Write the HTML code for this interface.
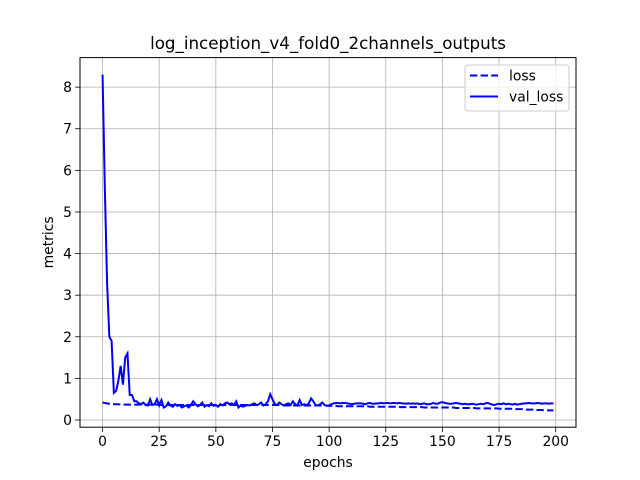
<!DOCTYPE html>
<html><head><meta charset="utf-8"><style>
body{margin:0;background:#fff}
svg{display:block;font-family:"DejaVu Sans","Liberation Sans",sans-serif}
</style></head><body>
<svg id="chart" width="640" height="480"></svg>
<script>
const epochs = Array.from({length:200},(_, i)=>i);
const valLoss = [8.3,5.6,3.3,2.0,1.9,0.65,0.7,0.95,1.3,0.85,
1.5,1.6,0.6,0.6,0.45,0.45,0.4,0.38,0.42,0.36,
0.35,0.5,0.36,0.38,0.5,0.35,0.48,0.3,0.33,0.42,
0.35,0.32,0.38,0.34,0.36,0.3,0.33,0.35,0.3,0.36,
0.45,0.38,0.33,0.36,0.42,0.32,0.36,0.33,0.4,0.34,
0.36,0.32,0.38,0.35,0.4,0.42,0.38,0.4,0.36,0.45,
0.3,0.35,0.32,0.34,0.36,0.35,0.38,0.4,0.36,0.38,
0.42,0.35,0.38,0.45,0.62,0.5,0.38,0.36,0.42,0.38,
0.35,0.38,0.4,0.36,0.45,0.38,0.35,0.48,0.36,0.38,
0.35,0.4,0.52,0.45,0.36,0.35,0.38,0.42,0.36,0.34,
0.35,0.38,0.4,0.41,0.41,0.4,0.41,0.41,0.4,0.39,
0.38,0.39,0.4,0.4,0.4,0.39,0.38,0.4,0.41,0.39,
0.39,0.4,0.4,0.41,0.4,0.41,0.41,0.4,0.41,0.41,
0.4,0.41,0.4,0.4,0.39,0.4,0.39,0.4,0.39,0.4,
0.38,0.39,0.4,0.38,0.38,0.39,0.41,0.39,0.39,0.42,
0.43,0.41,0.4,0.39,0.39,0.4,0.41,0.4,0.39,0.38,
0.39,0.38,0.38,0.39,0.38,0.37,0.38,0.39,0.38,0.4,
0.41,0.39,0.37,0.36,0.38,0.39,0.38,0.4,0.38,0.39,
0.38,0.37,0.39,0.37,0.38,0.39,0.4,0.4,0.41,0.4,
0.4,0.4,0.41,0.4,0.39,0.4,0.4,0.39,0.4,0.4];
const loss = [0.42,0.41,0.4,0.39,0.38,0.38,0.38,0.38,0.37,0.37,
0.37,0.37,0.37,0.37,0.37,0.37,0.37,0.37,0.37,0.37,
0.37,0.37,0.37,0.37,0.37,0.37,0.36,0.36,0.36,0.36,
0.36,0.36,0.36,0.36,0.36,0.36,0.36,0.36,0.36,0.36,
0.36,0.36,0.36,0.36,0.36,0.36,0.36,0.36,0.36,0.36,
0.36,0.36,0.36,0.36,0.36,0.36,0.36,0.36,0.36,0.36,
0.36,0.36,0.36,0.36,0.36,0.36,0.36,0.36,0.36,0.36,
0.36,0.36,0.36,0.36,0.36,0.36,0.36,0.36,0.36,0.36,
0.35,0.35,0.35,0.35,0.35,0.35,0.35,0.35,0.35,0.35,
0.35,0.35,0.35,0.35,0.35,0.35,0.35,0.35,0.35,0.35,
0.34,0.34,0.34,0.34,0.33,0.33,0.33,0.33,0.33,0.33,
0.33,0.33,0.33,0.33,0.33,0.33,0.33,0.33,0.32,0.32,
0.32,0.32,0.32,0.32,0.32,0.32,0.32,0.32,0.32,0.32,
0.31,0.31,0.31,0.31,0.31,0.31,0.31,0.31,0.31,0.31,
0.31,0.31,0.3,0.3,0.3,0.3,0.3,0.3,0.3,0.3,
0.3,0.3,0.3,0.3,0.3,0.3,0.29,0.29,0.29,0.29,
0.29,0.29,0.29,0.29,0.29,0.28,0.28,0.28,0.28,0.28,
0.28,0.28,0.28,0.28,0.28,0.27,0.27,0.27,0.27,0.27,
0.27,0.27,0.26,0.26,0.26,0.26,0.26,0.25,0.25,0.25,
0.25,0.24,0.24,0.24,0.24,0.23,0.23,0.23,0.23,0.23];
const xTicks = [0,25,50,75,100,125,150,175,200];
const yTicks = [0,1,2,3,4,5,6,7,8];

const NS="http://www.w3.org/2000/svg";
const svg=document.getElementById('chart');
const L=80,R=576,T=57.6,B=427.2;
const xMin=-9.95,xMax=208.95,yMin=-0.173,yMax=8.71;
const xs=v=>L+(v-xMin)/(xMax-xMin)*(R-L);
const ys=v=>B-(v-yMin)/(yMax-yMin)*(B-T);
function mk(tag,attrs,text){const e=document.createElementNS(NS,tag);for(const k in attrs)e.setAttribute(k,attrs[k]);if(text!=null)e.textContent=text;svg.appendChild(e);return e;}

xTicks.forEach(t=>{
  const g=mk('line',{x1:xs(t),x2:xs(t),y1:T,y2:B,stroke:'#b0b0b0','stroke-width':0.8});
  
  
  mk('line',{x1:xs(t),x2:xs(t),y1:B,y2:B+4.9,stroke:'#000','stroke-width':0.8});
  const l=mk('text',{x:xs(t),y:B+19,'text-anchor':'middle','font-size':13.9},t);
  
  
});
yTicks.forEach(t=>{
  const g=mk('line',{x1:L,x2:R,y1:ys(t),y2:ys(t),stroke:'#b0b0b0','stroke-width':0.8});
  
  
  mk('line',{x1:L-4.9,x2:L,y1:ys(t),y2:ys(t),stroke:'#000','stroke-width':0.8});
  const l=mk('text',{x:L-8,y:ys(t)+5,'text-anchor':'end','font-size':13.9},t);
  
  
});
const pts=a=>a.map((v,i)=>xs(epochs[i]).toFixed(2)+','+ys(v).toFixed(2)).join(' ');
const lp=mk('polyline',{points:pts(loss),fill:'none',stroke:'#0000ff','stroke-width':2,'stroke-dasharray':'7.4,3.2'});


const vp=mk('polyline',{points:pts(valLoss),fill:'none',stroke:'#0000ff','stroke-width':2});


const fr=mk('rect',{x:L,y:T,width:R-L,height:B-T,fill:'none',stroke:'#000','stroke-width':1});


const ti=mk('text',{x:(L+R)/2,y:49,'text-anchor':'middle','font-size':16.7},'log_inception_v4_fold0_2channels_outputs');


const xt=mk('text',{x:(L+R)/2,y:467,'text-anchor':'middle','font-size':13.9},'epochs');


const yt=mk('text',{x:0,y:0,'text-anchor':'middle','font-size':13.9,transform:'translate(53,242.4) rotate(-90)'},'metrics');


const lg=mk('rect',{x:465,y:65,width:104,height:46,fill:'#fff','fill-opacity':0.8,stroke:'#ccc','stroke-width':1,rx:3});


mk('line',{x1:470,x2:498,y1:75.5,y2:75.5,stroke:'#0000ff','stroke-width':2,'stroke-dasharray':'7.4,3.2'});
const l1=mk('text',{x:509,y:80.5,'font-size':13.9},'loss');


mk('line',{x1:470,x2:498,y1:96.5,y2:96.5,stroke:'#0000ff','stroke-width':2});
const l2=mk('text',{x:509,y:101.5,'font-size':13.9},'val_loss');


</script>
</body></html>
